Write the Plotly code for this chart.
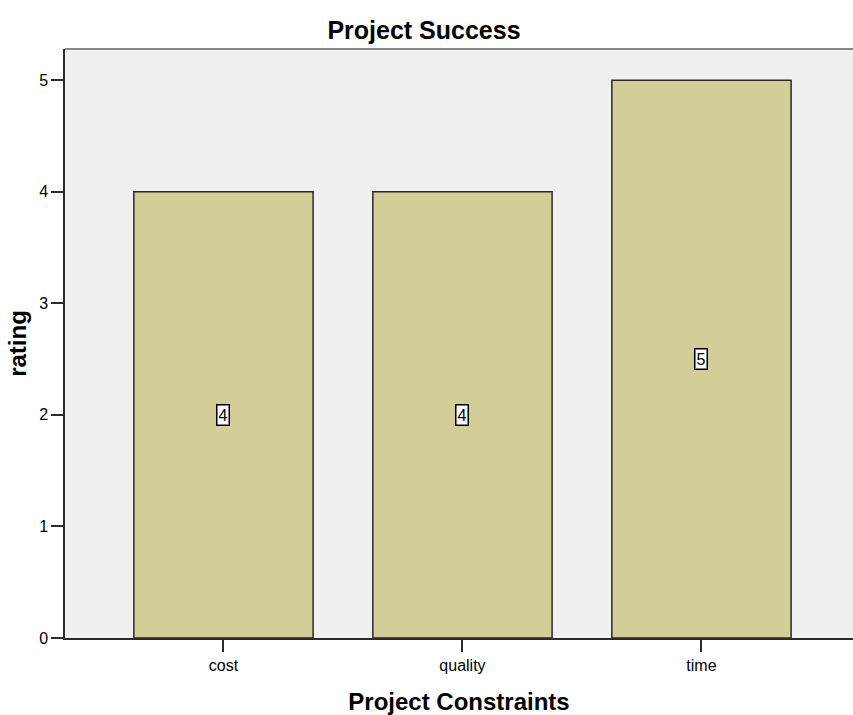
import plotly.graph_objects as go

# Ratings per project constraint
constraints = ["cost", "quality", "time"]
ratings = [4, 4, 5]

bar_fill = "#D3CE97"
edge = "#2b2b2b"
font_family = "Liberation Sans, Arial, sans-serif"

fig = go.Figure()
fig.add_trace(go.Bar(
    x=constraints,
    y=ratings,
    width=0.75,
    marker=dict(color=bar_fill, line=dict(color=edge, width=1.5)),
    hoverinfo="x+y",
))

# Value labels in small boxed tags at half bar height
for c, r in zip(constraints, ratings):
    fig.add_annotation(
        x=c, y=r / 2, text=str(r), showarrow=False,
        font=dict(family=font_family, size=16, color="black"),
        bgcolor="white", bordercolor="black", borderwidth=1.5, borderpad=1,
    )

# Thin gray frame line along the top of the plot area
fig.add_shape(type="line", xref="paper", yref="paper", x0=0, x1=1, y0=1, y1=1,
              line=dict(color="#888888", width=2))

fig.update_layout(
    width=853, height=715,
    margin=dict(l=65, r=0, t=49, b=77),
    paper_bgcolor="white",
    plot_bgcolor="#F0F0F0",
    showlegend=False,
    title=dict(text="<b>Project Success</b>", x=424 / 853, xanchor="center",
               y=1 - 30 / 715, yanchor="middle", yref="container",
               font=dict(family=font_family, size=25, color="black")),
    font=dict(family=font_family, size=16, color="black"),
)

fig.update_xaxes(
    range=[-0.663, 2.634],
    showline=True, linecolor=edge, linewidth=1.5,
    ticks="outside", ticklen=12, tickcolor=edge, tickwidth=1.5,
    showgrid=False, zeroline=False,
    tickfont=dict(family=font_family, size=16),
    title=dict(text="<b>Project Constraints</b>", standoff=20,
               font=dict(family=font_family, size=24)),
)
fig.update_yaxes(
    range=[0, 5.28],
    tickvals=[0, 1, 2, 3, 4, 5],
    showline=True, linecolor=edge, linewidth=1.5,
    ticks="outside", ticklen=12, tickcolor=edge, tickwidth=1.5,
    showgrid=False, zeroline=False,
    tickfont=dict(family=font_family, size=16),
    title=dict(text="<b>rating</b>", standoff=6,
               font=dict(family=font_family, size=24)),
)

fig.write_html("out.html")
